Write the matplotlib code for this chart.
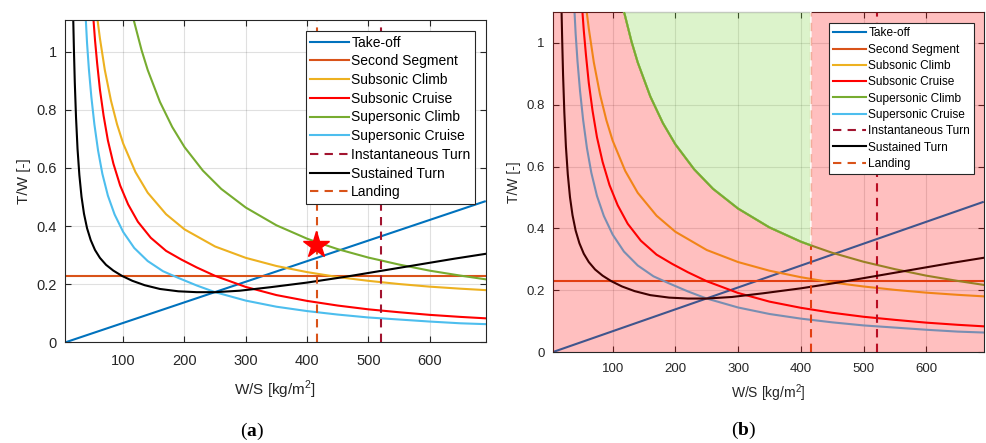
import matplotlib
matplotlib.use("Agg")
import matplotlib.pyplot as plt
from matplotlib.patches import Polygon

plt.rcParams['font.family'] = ['Liberation Sans', 'DejaVu Sans']
plt.rcParams['mathtext.fontset'] = 'custom'
plt.rcParams['mathtext.rm'] = 'Liberation Sans'
plt.rcParams['mathtext.bf'] = 'Liberation Serif:bold'

# ---------------- data ----------------
labels = ["Take-off", "Second Segment", "Subsonic Climb", "Subsonic Cruise",
          "Supersonic Climb", "Supersonic Cruise", "Instantaneous Turn",
          "Sustained Turn", "Landing"]

takeoff_ws = [5, 690]
takeoff_tw = [0.0, 0.485]

second_ws = [5, 692]
second_tw = [0.229, 0.229]

subclimb_ws = [58, 62, 70, 80, 90, 100, 120, 140, 170, 200, 250, 300, 350, 400, 450, 500, 550, 600, 650, 692]
subclimb_tw = [1.111, 1.046, 0.937, 0.832, 0.750, 0.684, 0.586, 0.515, 0.441, 0.389, 0.330, 0.291, 0.263,
               0.242, 0.225, 0.212, 0.201, 0.192, 0.185, 0.180]

subcruise_ws = [51.5, 54, 57.5, 62, 68, 75, 84, 95, 108, 124, 145, 170, 195, 220, 250, 300, 350, 400, 450,
                500, 550, 600, 650, 692]
subcruise_tw = [1.11, 1.04, 0.96, 0.87, 0.78, 0.695, 0.615, 0.54, 0.475, 0.415, 0.36, 0.315, 0.285, 0.258,
                0.229, 0.191, 0.163, 0.143, 0.127, 0.114, 0.104, 0.095, 0.088, 0.083]

supclimb_ws = [117, 130, 140, 160, 180, 200, 230, 260, 300, 350, 400, 416, 450, 500, 550, 600, 650, 692]
supclimb_tw = [1.110, 1.005, 0.937, 0.827, 0.741, 0.672, 0.591, 0.528, 0.464, 0.403, 0.357, 0.345, 0.321,
               0.292, 0.268, 0.247, 0.230, 0.217]

supcruise_ws = [39, 41, 44, 48, 53, 59, 66, 75, 86, 100, 118, 140, 165, 190, 220, 250, 300, 350, 400, 450,
                500, 550, 600, 650, 692]
supcruise_tw = [1.11, 1.03, 0.94, 0.845, 0.75, 0.66, 0.58, 0.505, 0.44, 0.38, 0.325, 0.28, 0.245, 0.222,
                0.196, 0.173, 0.144, 0.123, 0.108, 0.096, 0.086, 0.079, 0.072, 0.066, 0.063]

susturn_ws = [18.5, 19.6, 21, 23, 25.5, 28.5, 32, 36, 41, 47, 54, 62, 72, 84, 98, 115, 135, 160, 190, 220,
              250, 290, 340, 400, 460, 520, 580, 640, 692]
susturn_tw = [1.11, 1.007, 0.895, 0.775, 0.665, 0.575, 0.501, 0.443, 0.393, 0.352, 0.318, 0.291, 0.267,
              0.247, 0.229, 0.212, 0.197, 0.184, 0.176, 0.173, 0.173, 0.178, 0.19, 0.206, 0.225, 0.246,
              0.267, 0.288, 0.305]

instturn_ws = 521
landing_ws = 416

design_ws = 415
design_tw = 0.335

colors = {
    "Take-off": "#0072BD", "Second Segment": "#D95319", "Subsonic Climb": "#EDB120",
    "Subsonic Cruise": "#FF0000", "Supersonic Climb": "#77AC30", "Supersonic Cruise": "#4DBEEE",
    "Instantaneous Turn": "#A2142F", "Sustained Turn": "#000000", "Landing": "#D95319",
}

XLIM = (5, 692)

fig = plt.figure(figsize=(9.86, 4.43), dpi=100)
ax1 = fig.add_axes([0.0659, 0.2269, 0.4270, 0.7287])
ax2 = fig.add_axes([0.5609, 0.2054, 0.4371, 0.7675])


def draw(ax, ylim_top, fs_tick, fs_leg, fs_lab, lspace, xlpad):
    lw = 1.5
    ax.plot(takeoff_ws, takeoff_tw, color=colors["Take-off"], lw=lw, label=labels[0])
    ax.plot(second_ws, second_tw, color=colors["Second Segment"], lw=lw, label=labels[1])
    ax.plot(subclimb_ws, subclimb_tw, color=colors["Subsonic Climb"], lw=lw, label=labels[2])
    ax.plot(subcruise_ws, subcruise_tw, color=colors["Subsonic Cruise"], lw=lw, label=labels[3])
    ax.plot(supclimb_ws, supclimb_tw, color=colors["Supersonic Climb"], lw=lw, label=labels[4])
    ax.plot(supcruise_ws, supcruise_tw, color=colors["Supersonic Cruise"], lw=lw, label=labels[5])
    ax.plot([instturn_ws, instturn_ws], [0, ylim_top], color=colors["Instantaneous Turn"], lw=lw,
            ls=(0, (4, 3)), label=labels[6])
    ax.plot(susturn_ws, susturn_tw, color=colors["Sustained Turn"], lw=lw, label=labels[7])
    ax.plot([landing_ws, landing_ws], [0, ylim_top], color=colors["Landing"], lw=lw,
            ls=(0, (4, 3)), label=labels[8])
    ax.set_xlim(*XLIM)
    ax.set_ylim(0, ylim_top)
    ax.set_xticks([100, 200, 300, 400, 500, 600])
    ax.set_yticks([0, 0.2, 0.4, 0.6, 0.8, 1.0])
    ax.set_yticklabels(["0", "0.2", "0.4", "0.6", "0.8", "1"])
    ax.grid(True, color="#000000", alpha=0.12, lw=0.8)
    ax.tick_params(direction="in", top=True, right=True, length=4, width=0.8,
                   labelsize=fs_tick, colors="#262626")
    ax.tick_params(axis="x", pad=8)
    ax.tick_params(axis="y", pad=6)
    for s in ax.spines.values():
        s.set_color("#262626")
        s.set_linewidth(0.8)
    ax.set_xlabel(r"W/S [kg/m$^{2}$]", fontsize=fs_lab, color="#262626", labelpad=xlpad)
    ax.set_ylabel("T/W [-]", fontsize=fs_lab, color="#262626")
    leg = ax.legend(loc="upper right", fontsize=fs_leg, frameon=True, fancybox=False,
                    edgecolor="#262626", framealpha=1, handlelength=2.8, handletextpad=0.15,
                    labelspacing=lspace, borderpad=0.35, borderaxespad=0.0)
    leg.get_frame().set_linewidth(0.8)
    leg.set_zorder(10)
    return leg


leg1 = draw(ax1, 1.11, 10.5, 10, 11, 0.34, 8)
leg1.set_bbox_to_anchor((0.975, 0.966), transform=ax1.transAxes)
ax1.plot([design_ws], [design_tw], marker="*", color="#FF0000", markersize=20, zorder=5, lw=0)

leg2 = draw(ax2, 1.10, 9.5, 8.6, 10, 0.36, 5)
leg2.set_bbox_to_anchor((0.977, 0.967), transform=ax2.transAxes)

# feasible (green) and infeasible (red) regions on panel b
top = 1.10
gx = [x for x in supclimb_ws if x <= landing_ws]
gy = [y for x, y in zip(supclimb_ws, supclimb_tw) if x <= landing_ws]
green_poly = [(gx[0], top)] + list(zip(gx, gy)) + [(landing_ws, top)]
red_poly = [(XLIM[0], 0), (XLIM[0], top), (gx[0], top)] + list(zip(gx, gy)) + \
           [(landing_ws, top), (XLIM[1], top), (XLIM[1], 0)]
ax2.add_patch(Polygon(red_poly, closed=True, facecolor="#FF0000", alpha=0.25, edgecolor="none", zorder=3))
ax2.add_patch(Polygon(green_poly, closed=True, facecolor="#77D030", alpha=0.25, edgecolor="none", zorder=3))
ax2.add_patch(Polygon(green_poly, closed=True, facecolor="none", edgecolor="white", lw=1.0, zorder=3.5))
ax2.plot(gx, gy, color=colors["Supersonic Climb"], lw=1.5, zorder=3.6)

fig.text(0.2556, 0.027, r"($\mathbf{a}$)", ha="center", va="center", fontsize=14, family="Liberation Serif")
fig.text(0.7546, 0.029, r"($\mathbf{b}$)", ha="center", va="center", fontsize=14, family="Liberation Serif")

fig.savefig("out.png", dpi=100)
